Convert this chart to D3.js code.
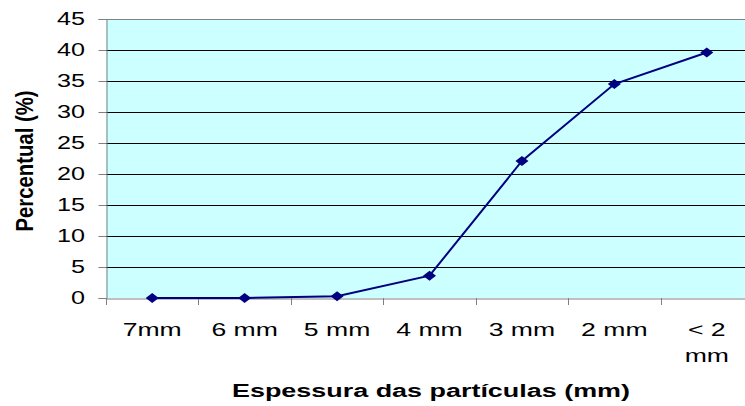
<!DOCTYPE html>
<html lang="pt">
<head>
<meta charset="UTF-8">
<title>Espessura das partículas</title>
<script src="https://d3js.org/d3.v7.min.js"></script>
<style>
    body { margin: 0; background: #fff; overflow: hidden; }
    text { font-family: "Liberation Sans", Arial, sans-serif; }
</style>
</head>
<body>
<div id="chart"></div>
<script>
    const categories = ["7mm", "6 mm", "5 mm", "4 mm", "3 mm", "2 mm", "< 2 mm"];
    const percentual = [0, 0, 0.3, 3.6, 22.1, 34.5, 39.6];
    const yTicks = [0, 5, 10, 15, 20, 25, 30, 35, 40, 45];

    const width = 745, height = 406;
    const margin = { top: 19, right: -8, bottom: 108, left: 106 };
    const w = width - margin.left - margin.right;
    const h = height - margin.top - margin.bottom;
    const stretch = 1.4; // the original text is wide

    const svg = d3.select("#chart")
        .append("svg")
        .attr("width", width)
        .attr("height", height);

    const g = svg.append("g")
        .attr("transform", `translate(${margin.left},${margin.top})`);

    const x = d3.scaleBand()
        .domain(categories)
        .range([0, w]);

    const y = d3.scaleLinear()
        .domain([0, 45])
        .range([h, 0]);

    g.append("rect")
        .attr("width", w)
        .attr("height", h)
        .attr("fill", "#ccffff");

    // gridlines
    g.selectAll(".grid")
        .data(yTicks.filter(d => d > 0 && d < 45))
        .enter().append("line")
        .attr("x1", 0)
        .attr("x2", w)
        .attr("y1", d => Math.round(y(d)) + 0.5)
        .attr("y2", d => Math.round(y(d)) + 0.5)
        .attr("stroke", "#000");

    g.append("line")
        .attr("x1", 0).attr("x2", w)
        .attr("y1", 0.5).attr("y2", 0.5)
        .attr("stroke", "#808080");

    // y axis (labels drawn separately so they can be stretched)
    const yAxis = g.append("g")
        .attr("transform", "translate(0.5,0)")
        .call(d3.axisLeft(y).tickValues(yTicks).tickSize(8).tickFormat(""));
    yAxis.select(".domain").attr("stroke", "#808080");
    yAxis.selectAll(".tick line").attr("stroke", "#808080");

    g.append("g").selectAll("g")
        .data(yTicks)
        .enter().append("g")
        .attr("transform", d => `translate(-21,${y(d)}) scale(${stretch},1)`)
        .append("text")
        .attr("text-anchor", "end")
        .attr("dy", "0.36em")
        .attr("font-size", 18)
        .attr("fill", "#000")
        .text(d => d);

    // x axis
    const xAxis = g.append("g")
        .attr("transform", `translate(0,${h + 0.5})`)
        .call(d3.axisBottom(x).tickSize(0).tickFormat(""));
    xAxis.select(".domain").attr("stroke", "#808080");

    g.append("g").selectAll("line")
        .data(categories)
        .enter().append("line")
        .attr("x1", d => Math.round(x(d)) + 0.5)
        .attr("x2", d => Math.round(x(d)) + 0.5)
        .attr("y1", h)
        .attr("y2", h + 7)
        .attr("stroke", "#808080");

    const labels = g.append("g").selectAll("g")
        .data(categories)
        .enter().append("g")
        .attr("transform", d => `translate(${x(d) + x.bandwidth() / 2},${h + 38}) scale(${stretch},1)`)
        .append("text")
        .attr("text-anchor", "middle")
        .attr("font-size", 19)
        .attr("fill", "#000");
    labels.each(function(d) {
        const lines = d === "< 2 mm" ? ["< 2", "mm"] : [d];
        const t = d3.select(this);
        lines.forEach((l, i) => {
            t.append("tspan")
                .attr("x", 0)
                .attr("y", i * 26)
                .text(l);
        });
    });

    // series
    const line = d3.line()
        .x((d, i) => x(categories[i]) + x.bandwidth() / 2)
        .y(d => y(d));

    g.append("path")
        .datum(percentual)
        .attr("fill", "none")
        .attr("stroke", "#000080")
        .attr("stroke-width", 2)
        .attr("d", line);

    g.selectAll(".pt")
        .data(percentual)
        .enter().append("path")
        .attr("class", "pt")
        .attr("transform", (d, i) => `translate(${x(categories[i]) + x.bandwidth() / 2},${y(d)})`)
        .attr("d", "M0,-5L6.5,0L0,5L-6.5,0Z")
        .attr("fill", "#000080");

    // titles
    svg.append("text")
        .attr("x", 431)
        .attr("y", 397)
        .attr("text-anchor", "middle")
        .attr("font-size", 17.5)
        .attr("font-weight", "bold")
        .attr("textLength", 398)
        .attr("lengthAdjust", "spacingAndGlyphs")
        .attr("fill", "#000")
        .text("Espessura das partículas (mm)");

    svg.append("g")
        .attr("transform", `translate(33,161) scale(${stretch},1) rotate(-90)`)
        .append("text")
        .attr("text-anchor", "middle")
        .attr("font-size", 17)
        .attr("font-weight", "bold")
        .attr("textLength", 141)
        .attr("lengthAdjust", "spacingAndGlyphs")
        .attr("fill", "#000")
        .text("Percentual (%)");
</script>
</body>
</html>
